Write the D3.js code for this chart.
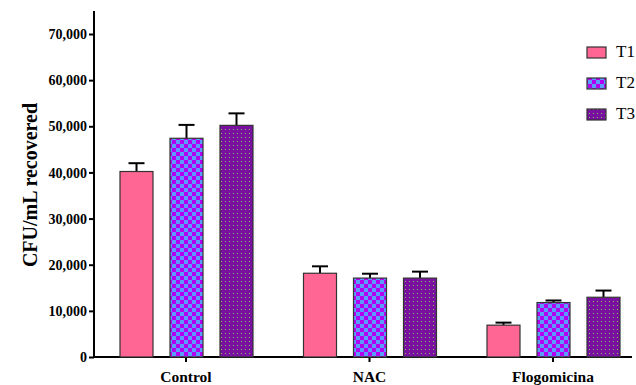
<!DOCTYPE html>
<html>
<head>
<meta charset="utf-8">
<script src="https://cdn.jsdelivr.net/npm/d3@7"></script>
<style>
body{margin:0;background:#fff;}
svg text{font-family:"Liberation Serif","Times New Roman",serif;}
</style>
</head>
<body>
<svg id="chart" width="636" height="385"></svg>
<script>
var groups = ["Control", "NAC", "Flogomicina"];
var series = ["T1", "T2", "T3"];
var means = [
	[40200, 47400, 50200],
	[18150, 17100, 17100],
	[6900, 11800, 12950]
];
var errs = [
	[1800, 2900, 2600],
	[1500, 950, 1400],
	[550, 450, 1450]
];
var yTicks = [0, 10000, 20000, 30000, 40000, 50000, 60000, 70000];

var svg = d3.select("#chart");
var defs = svg.append("defs");

// checker pattern for T2
var p2 = defs.append("pattern").attr("id", "checker").attr("patternUnits", "userSpaceOnUse")
	.attr("width", 8).attr("height", 8);
p2.append("rect").attr("width", 8).attr("height", 8).attr("fill", "#5a9cff");
p2.append("rect").attr("width", 4).attr("height", 4).attr("fill", "#b400f0");
p2.append("rect").attr("x", 4).attr("y", 4).attr("width", 4).attr("height", 4).attr("fill", "#b400f0");

// dotted pattern for T3
var p3 = defs.append("pattern").attr("id", "dots").attr("patternUnits", "userSpaceOnUse")
	.attr("width", 4).attr("height", 4);
p3.append("rect").attr("width", 4).attr("height", 4).attr("fill", "#7a10a0");
p3.append("rect").attr("x", 1).attr("y", 1).attr("width", 1).attr("height", 1).attr("fill", "#7fc060");

var fills = ["#ff6694", "url(#checker)", "url(#dots)"];

var y = d3.scaleLinear().domain([0, 70000]).range([357, 34]);
var x0 = d3.scalePoint().domain(groups).range([186, 553]);
var x1 = d3.scaleBand().domain(series).range([-66, 67]).paddingInner(0.34).paddingOuter(0);

// axes
var yAxis = d3.axisLeft(y).tickValues(yTicks).tickSize(5).tickFormat(d3.format(","));
var ya = svg.append("g").attr("transform", "translate(94,0)").call(yAxis);
ya.attr("font-family", null).attr("font-size", null);
ya.select(".domain").remove();
ya.append("line").attr("y1", 11).attr("y2", 357).attr("stroke", "#000").attr("stroke-width", 2);
ya.selectAll(".tick line").attr("stroke-width", 2);
ya.selectAll(".tick text").attr("font-size", 14).attr("font-weight", "bold").attr("fill", "#000")
	.attr("x", -7).attr("dy", "0.33em");

svg.append("line").attr("x1", 93).attr("x2", 632).attr("y1", 357).attr("y2", 357)
	.attr("stroke", "#000").attr("stroke-width", 2);

groups.forEach(function(g, i){
	var cx = x0(g);
	svg.append("line").attr("x1", cx).attr("x2", cx).attr("y1", 357).attr("y2", 362)
		.attr("stroke", "#000").attr("stroke-width", 2);
	svg.append("text").attr("x", cx).attr("y", 382).attr("text-anchor", "middle")
		.attr("font-size", 15.5).attr("font-weight", "bold").text(g);

	series.forEach(function(s, j){
		var bx = cx + x1(s);
		var bw = x1.bandwidth();
		var top = y(means[i][j]);
		var etop = y(means[i][j] + errs[i][j]);
		var mid = bx + bw/2;
		svg.append("line").attr("x1", mid).attr("x2", mid).attr("y1", top).attr("y2", etop)
			.attr("stroke", "#000").attr("stroke-width", 2);
		svg.append("line").attr("x1", mid - 8).attr("x2", mid + 8).attr("y1", etop).attr("y2", etop)
			.attr("stroke", "#000").attr("stroke-width", 2);
		svg.append("rect").attr("x", bx).attr("y", top).attr("width", bw).attr("height", 357 - top)
			.attr("fill", fills[j]).attr("stroke", "#333").attr("stroke-width", 1.2);
	});
});

// y label
svg.append("text").attr("transform", "translate(37,185) rotate(-90)").attr("text-anchor", "middle")
	.attr("font-size", 20).attr("font-weight", "bold").text("CFU/mL recovered");

// legend
series.forEach(function(s, j){
	var ly = 47 + j * 31;
	svg.append("rect").attr("x", 587).attr("y", ly).attr("width", 19).attr("height", 11)
		.attr("fill", fills[j]).attr("stroke", "#333").attr("stroke-width", 1.2);
	svg.append("text").attr("x", 616).attr("y", ly + 10).attr("font-size", 17).text(s);
});
</script>
</body>
</html>
